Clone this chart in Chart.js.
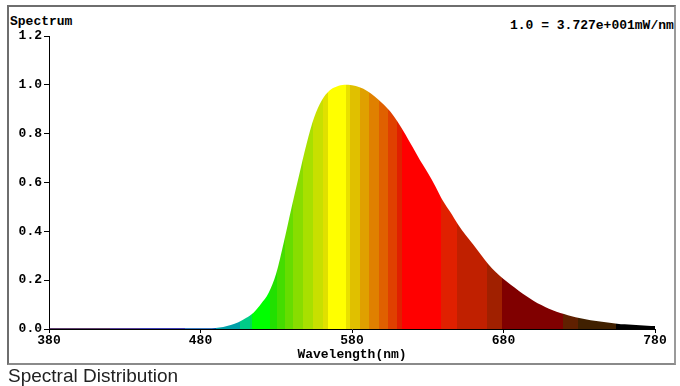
<!DOCTYPE html>
<html>
<head>
<meta charset="utf-8">
<script src="https://cdn.jsdelivr.net/npm/chart.js@4/dist/chart.umd.min.js"></script>
<style>
  html, body { margin:0; padding:0; background:#fff; width:680px; height:386px; overflow:hidden; }
  #frame { position:absolute; left:7px; top:5px; width:665px; height:356px; border:2px solid #6e6e6e; border-right-color:#9a9a9a; border-bottom-color:#8a8a8a; overflow:hidden; }
  #c { position:absolute; left:0; top:0; }
  .mono { font-family:"Liberation Mono","Courier New",monospace; font-weight:bold; font-size:13px; line-height:13px; color:#000; position:absolute; white-space:nowrap; }
  #spec { left:1px; top:8px; }
  #unit { left:501px; top:12px; }
  #caption { position:absolute; left:8px; top:365px; font-family:"Liberation Sans",Arial,sans-serif; font-size:19px; line-height:22px; color:#222; white-space:nowrap; }
</style>
</head>
<body>
<div id="frame">
  <div class="mono" id="spec">Spectrum</div>
  <div class="mono" id="unit">1.0 = 3.727e+001mW/nm</div>
</div>
<canvas id="c" width="680" height="386"></canvas>
<div id="caption">Spectral Distribution</div>
<script>
// Wavelengths (nm)
const wavelengths = [380,385,390,395,400,405,410,415,420,425,430,435,440,445,450,455,460,465,470,475,
  480,485,490,495,500,505,510,515,520,525,530,535,540,545,550,555,560,565,570,575,
  580,585,590,595,600,605,610,615,620,625,630,635,640,645,650,655,660,665,670,675,
  680,685,690,695,700,705,710,715,720,725,730,735,740,745,750,755,760,765,770,775,780];
// Relative spectrum values
const intensity = [0.003,0.003,0.003,0.003,0.003,0.003,0.003,0.003,0.003,0.003,0.003,0.003,0.003,0.003,0.003,0.003,0.003,0.003,0.003,0.003,
  0.003,0.003,0.004,0.008,0.016,0.028,0.045,0.067,0.103,0.148,0.228,0.355,0.495,0.628,0.758,0.866,0.936,0.976,0.993,1.0,
  0.998,0.99,0.975,0.952,0.925,0.893,0.85,0.80,0.745,0.69,0.64,0.585,0.525,0.478,0.428,0.385,0.346,0.305,0.265,0.232,
  0.205,0.18,0.157,0.135,0.115,0.098,0.083,0.071,0.061,0.052,0.045,0.039,0.034,0.030,0.026,0.022,0.019,0.017,0.015,0.013,0.012];
// Tick labels
const xTicks = [380,480,580,680,780];
const yTicks = [0.0,0.2,0.4,0.6,0.8,1.0,1.2];

// Style: colour bands by wavelength (start nm, colour)
const bandStarts = [380,420,440,470,490,506,512.7,514,526,530.5,535.8,541,547.7,554,561,564,576,579,585,591,598,604,610,613,639,649,669,679,719,729,754];
const bandColors = ['#2a0040','#20007a','#0000a0','#0050b0','#00a0a8','#00cc88','#00dd55','#00ff00','#22e000','#44dd00','#66dd00','#88dd00','#a8e000','#c8e000','#e0e000','#ffff00','#e8e000','#e0c000','#e0a000','#e08000','#e06000','#e04000','#e02000','#ff0000','#e02000','#c02000','#a02000','#800000','#602000','#402000','#000000'];

const points = wavelengths.map((w,i)=>({x:w, y:intensity[i]}));
const monoFont = {family:'"Liberation Mono","Courier New",monospace', size:13, weight:'bold'};

function bandFill(ctx){
  const chart = ctx.chart; const a = chart.chartArea;
  if(!a) return 'rgba(0,0,0,0)';
  const xs = chart.scales.x;
  const g = chart.ctx.createLinearGradient(a.left,0,a.right,0);
  const w = a.right - a.left;
  const off = v => Math.min(1, Math.max(0, (xs.getPixelForValue(v)-a.left)/w));
  for(let i=0;i<bandStarts.length;i++){
    const s = off(bandStarts[i]);
    const e = off(i+1<bandStarts.length ? bandStarts[i+1] : xs.max);
    g.addColorStop(s, bandColors[i]);
    g.addColorStop(e, bandColors[i]);
  }
  return g;
}

new Chart(document.getElementById('c'), {
  type:'line',
  data:{ datasets:[{ data:points, parsing:false, fill:'origin', backgroundColor:bandFill, borderWidth:0, pointRadius:0, cubicInterpolationMode:'monotone' }] },
  options:{
    responsive:false, animation:false, devicePixelRatio:1,
    layout:{ padding:{ left:0, right:25, top:36, bottom:23 } },
    plugins:{ legend:{display:false}, tooltip:{enabled:false} },
    scales:{
      x:{ type:'linear', min:380, max:780,
        afterBuildTicks: s => { s.ticks = xTicks.map(v=>({value:v})); },
        afterFit: s => { s.height = 34; },
        ticks:{ font:monoFont, color:'#000', padding:0, maxRotation:0, autoSkip:false },
        grid:{ drawOnChartArea:false, drawTicks:true, tickLength:4, color:'#000' },
        border:{ color:'#000', width:1 },
        title:{ display:true, text:'Wavelength(nm)', font:monoFont, color:'#000', padding:{top:0,bottom:0} }
      },
      y:{ min:0, max:1.2,
        afterBuildTicks: s => { s.ticks = yTicks.map(v=>({value:v})); },
        afterFit: s => { s.width = 49; },
        ticks:{ font:monoFont, color:'#000', padding:2, callback: v => Number(v).toFixed(1) },
        grid:{ drawOnChartArea:false, drawTicks:true, tickLength:5, color:'#000' },
        border:{ color:'#000', width:1 }
      }
    }
  }
});
</script>
</body>
</html>
